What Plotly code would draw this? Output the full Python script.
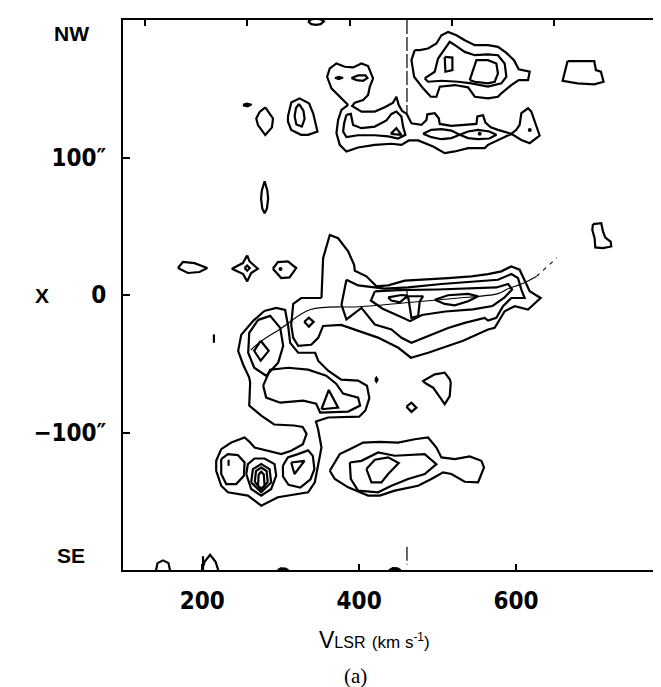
import plotly.graph_objects as go

# ---------------- axis / label data ----------------
x_range = [99, 795]           # V_LSR (km/s)
y_range = [-200, 200]         # X (arcsec)
x_tick_vals = [200, 400, 600]
x_tick_text = ["200", "400", "600"]
y_tick_vals = [100, 0, -100]
y_tick_text = ["100\u2033", "0", "\u2212100\u2033"]
top_tick_vals = [127, 257, 388, 518, 648, 778]
sys_velocity = 461            # vertical reference line (km/s)

# ---------------- contour data (V_LSR, X) ----------------
top_edge_blob = [(335,199),(339,197),(345,196.5),(351,197),(355,199),(351,200.5),(345,201),(339,200.5)]
nw_dash = [(252,138.5),(257,139.5),(263,138.5),(258,137),(253,137.5)]
nw_diamond = [(280.4,136.4),(290.2,128.4),(288.9,121.9),(280.4,116.3),(271,123.6),(268.9,128.4),(273.2,133.2)]
nw_oval_outer = [(309.3,130),(313.5,140),(324,143),(336,139.5),(341.4,132.2),(346.9,118.9),(335,116.5),(326,116.5),(313.5,120),(309.3,126)]
nw_oval_inner = [(323.3,139),(329,134),(330.5,128),(327,122.5),(320,124),(317.8,130),(319.5,136)]
thin_ellipse = [(279.5,82.7),(283,76),(284,70),(282.5,63),(279.5,59.4),(276.5,63),(275,70),(276,76)]

band_outer = [(386,138.2),(377.5,143),(364.7,150.3),(359.2,158.7),(362.6,164.8),(371.1,168.4),(381.7,166),
              (392.3,165.5),(403,168.4),(411.4,166.5),(417.8,157.5),(413.6,151.5),(411.4,145.4),(405.1,141.8),
              (394.5,139.9),(391.1,137.5),(403,133.4),(420,133.4),(432.7,136.5),(443.3,139.9),(447.5,144.2),
              (450.5,138.2),(454.8,133.9),(460.7,131.7),(466.7,124.9),(479.4,123.7),(485.8,127.3),(487,131.4),
              (496.4,132.2),(501.5,128.5),(502.8,124.4),(517.6,123),(534.6,123.5),(549.5,124.4),(550.7,129.8),
              (558,130.7),(561,125.4),(567.7,122),(577,120.1),(594,117.2),(606.8,112.8),(617.4,110.4),
              (630.1,116),(623.8,127.3),(619.5,133.4),(615.3,135.8),(606.8,132.2),(604.6,123.7),(600.4,120.1),
              (594,117.2),(577,112.8),(564.3,109.2),(560.1,106.8),(538.9,106.8),(521.9,104.4),(509.1,103.2),
              (494.3,108),(475.2,112.4),(463.3,112.4),(453.9,109.2),(441.2,110),(420,109.2),(398.7,107.3),
              (383.8,104.4),(375.3,109.2),(371.1,117.7),(373.2,127.3),(377.5,134.6),(386,138.2)]
band_inner_left = [(383.8,131),(389.4,131.7),(392.3,123.7),(403,121.3),(420,122.5),(434.8,126.9),(441.2,131.7),
                   (447.5,133.4),(453.9,129.8),(456,122.5),(459,116.5),(449.7,113.8),(437,115.3),(420,116.2),
                   (398.7,116.2),(383.8,114.8),(379.6,118.9),(380.9,124.9)]
band_triangle = [(440.3,117.2),(447.5,121.3),(453.9,116.5)]
head_dash = [(369,157.8),(374,158.8),(379.6,158),(374,156.8)]
head_lens = [(390.2,157.8),(398.7,159.7),(408,159.7),(410.6,157.8),(405.1,155.8),(396.6,156.3)]
band_lens1 = [(481.5,117.2),(492.1,120.1),(504.9,120.6),(517.6,119.6),(528.2,116.5),(517.6,114.1),(504.9,113.3),(492.1,114.8)]
band_lens2 = [(528.2,116.5),(538.9,118.9),(551.6,120.1),(566,118.9),(575,116.5),(566,113.8),(551.6,113.3),(538.9,114.1)]

ne_outer = [(470.9,178.1),(466.7,170.8),(470.1,158.7),(481.5,150.3),(491.3,144.2),(498.5,144.2),(502.8,151.5),
            (521.9,152.7),(538.9,151),(547.4,144.2),(564.3,143),(577,144.2),(581.3,146.7),(594,152.7),
            (603.4,156.3),(615.3,156.3),(617.4,162.4),(603.4,164.1),(597.4,170.8),(587.7,176.1),(577,180.5),
            (564.3,181.7),(547.4,181.7),(534.6,185.3),(524,188.9),(513.4,191.3),(504.9,188.9),(498.5,182.9),
            (487.9,179.3),(477.3,178.1)]
ne_mid = [(483.6,157.5),(496.4,162.4),(500.6,172),(509.1,179.3),(515.5,184.1),(524,181),(534.6,176.8),
          (547.4,174.4),(564.3,175),(577,174.4),(585.5,168.4),(587.7,158.7),(581.3,153.9),(564.3,151.5),
          (543.1,153.9),(526.1,155.1),(504.9,155.8),(487.9,155.1)]
ne_box = [(509.1,173.2),(518.9,172.7),(518.9,163.6),(510,162.4)]
ne_trap = [(541,156.3),(549.5,170.8),(564.3,170.8),(574.9,168.4),(577,161.1),(572.8,155.1),(564.3,153.9),(547.4,155.1)]
far_trap = [(665.7,170.1),(699.7,170.1),(701.8,163.6),(708.2,162.4),(711.6,155.1),(699.7,153.2),(678.5,153.9),(659.4,155.8)]

w_ellipse = [(169,19.6),(175.4,24),(190.2,23.2),(206.4,19.6),(196.6,16.7),(181.7,16)]
w_astroid = [(257.3,28.8),(260.3,24.4),(270.9,19.1),(262.4,16),(257.3,9.9),(252.2,15.2),(237.8,19.1),(251.8,23.2)]
w_astroid_core = [(254,19.6),(257.3,21.5),(260.6,19.6),(257.3,17.7)]
w_oval = [(290,19.1),(296.4,23.9),(309.2,24.4),(319.8,19.6),(311.3,12.8),(300.7,12.3)]
w_tick = [(214.9,-28.7),(214.9,-34.8)]
e_blob = [(698.1,51.5),(708.7,52.2),(710.8,46.2),(713.8,41.8),(720.6,38.9),(721.4,35.3),(710.8,34.1),(701,34.6),(700.2,41.3),(697.2,47.4)]
e_edge_blob = [(805,17),(795,22),(785.1,20.8),(779.6,16.7),(783,12.3),(795,11.1),(805,13)]

# central structure: tower + wedge + western bay
c_outer = [(352,-2.2),(354.1,26.8),(362.6,43.7),(373.2,41.3),(386,31.7),(393.6,22),(394.5,17.7),
           (409.3,13.6),(422.1,6.3),(437,7),(458.2,10.4),(483.6,11.1),(513.4,12.3),(543.1,13.5),(564.3,15.2),
           (581.3,17.2),(594,20.8),(604.6,18.4),(611,9.9),(617.4,2.7),(631.4,-2.2),(615.3,-10.6),(598.3,-8.2),
           (585.5,-11.8),(572.8,-23.9),(564.3,-25.1),(532.5,-33.3),(488,-42),(466,-45.6),(450,-38.4),
           (424,-31),(405,-27),(377.1,-21.7),(354.1,-22.5),(347.8,-31.2),(338.9,-36.2),(322.3,-37),
           (316,-31.2),(313.4,-21.7),(316,-6.5),(326.1,-2.2),(335,-2.2)]
c_bay_diamond = [(330,-19.5),(336,-16.5),(342,-19.5),(336,-23)]
c_mid = [(383.8,11.1),(398.7,7),(432.7,4.6),(462.4,5.6),(504.9,8),(547.4,9.9),(577,11.1),(594,15.2),(602.5,12.3),
         (606.8,3.9),(611,-2.2),(594,-2.2),(583.4,-8.2),(574.9,-16.6),(564.3,-18.6),(560,-16.6),(534.6,-20.3),
         (513.4,-24),(483.6,-31.1),(466.7,-34.8),(454,-31.1),(441.2,-25.1),(420,-21.5),(403,-9.4),(383.8,-17.8),
         (377.5,-7)]
c_third = [(420,2.6),(450,3.5),(500,4),(550,5),(575,5.5),(590,8),(595,4),(585,-2),(570,-8),(545,-10.5),
           (510,-12),(480,-14.5),(465,-19),(450,-15),(430,-10),(415,-4)]
c_wedge = [(437,-1.7),(454,0),(462,-0.4),(452,-5.3),(441,-4)]
c_u = [(462.4,-0.9),(481.5,-0.9),(477.3,-4.6),(475.2,-15.4),(466.7,-16.6),(464.5,-7)]
c_lens = [(496.4,-3.4),(513.4,-0.2),(538.9,0.8),(551.6,-0.9),(538.9,-4.6),(521.9,-7.5),(509.1,-6.5)]

# south-western complex joined to the lower-left clump
sw_outer = [(279,-11.6),(294.3,-9.4),(305.7,-10.9),(309.5,-22.5),(312.1,-34.8),(322.3,-42),(343.9,-42),
            (347.8,-47.8),(360.5,-55.1),(377.1,-61.6),(398.7,-62.3),(410,-66),(413,-75),(408,-84),(400,-88.5),
            (360.5,-89.1),(345,-92),(347.7,-97.6),(352,-110.9),(347.7,-124.2),(343.5,-136.3),(335,-143.5),
            (296.4,-147.1),(275.2,-153.2),(258.2,-145.9),(232.7,-143.5),(224.2,-138.7),(217.8,-127.8),
            (217.8,-120.6),(224.2,-112.1),(237,-107.3),(254,-103.6),(260.3,-106.8),(266.7,-110.9),(283.7,-113.3),
            (300.7,-115.7),(313.4,-113.3),(328.3,-108.5),(333,-101),(328,-96),(317.2,-94.9),(291.7,-94.2),
            (275.2,-87.7),(259.9,-80.4),(261.1,-63.8),(259.9,-60.1),(252.2,-50.7),(245.8,-40.6),(249.7,-29),
            (265,-18.8)]
sw_ring = [(271.3,-18.1),(286.6,-15.2),(299.4,-23.9),(303.2,-37),(296.8,-49.3),(281.5,-58.7),(266.2,-52.9),
           (258.6,-42),(259.9,-27.5)]
sw_core = [(274.5,-33.3),(284.7,-40.6),(274.5,-47.8),(266.2,-40.6)]
sw_inner = [(277.7,-65.9),(281.5,-74.6),(299.4,-78.3),(328.7,-76.8),(345.2,-79),(350.3,-85.5),(386,-84.8),
            (401.3,-80.4),(398.7,-74.6),(379.6,-71.7),(370.7,-64.5),(358,-58.7),(335,-54.3),(309.5,-52.9),
            (286.6,-54.3)]
sw_triangle = [(352,-83.1),(361.3,-69.1),(373.2,-81.9)]
s60_diamond = [(460.3,-81.2),(466.7,-78.3),(473,-81.9),(466.7,-85)]
s60_blob = [(483.6,-63.8),(494.3,-67.4),(504.9,-75.9),(509.1,-79.5),(515.5,-73.5),(516.8,-63.8),(515.5,-61.3),
            (509.1,-56.5),(496.4,-57.7),(481.5,-62.5)]
s60_ring = [(420.5,-61.6),(422,-60.2),(423.5,-61.6),(422,-63)]

bl_left = [(224.2,-119.3),(232.7,-115.7),(245.4,-116.4),(254,-121.8),(253.1,-131.4),(243.3,-137.5),(230.6,-137.5),(224.2,-130.2)]
bl_left_mark = [(233.6,-119.8),(233.6,-124.2)]
bl_nest1 = [(256.1,-130.2),(258.2,-123),(266.7,-118.9),(279.4,-118.9),(292.2,-123),(294.3,-131.4),(287.9,-141.1),(275.2,-145.9),(262.4,-141.1)]
bl_nest2 = [(262.4,-136.3),(264.6,-126.6),(275.2,-123),(285.8,-126.6),(287.9,-136.3),(275.2,-143.5)]
bl_nest3 = [(267,-136),(268.5,-128),(275.2,-125.5),(282,-128),(283.5,-136),(275.2,-141.5)]
bl_nest4 = [(271,-139),(272,-130.5),(275.2,-128.5),(278.5,-130.5),(279.5,-139),(275.2,-140.5)]
bl_right = [(302.8,-124.2),(309.1,-118.1),(321.9,-115.7),(335,-113),(341,-117),(343,-126.6),(338,-134),(325,-140),(310,-138),(303,-132)]
bl_triangle = [(313.4,-121.8),(330.4,-120.6),(317.6,-130.2)]

bm_outer = [(362.6,-127.8),(375.3,-115.7),(388.1,-112.1),(405.1,-107.3),(426.3,-106.8),(449.7,-107.3),(470.9,-104.9),
            (487.9,-103.6),(498.5,-110.9),(504.9,-118.1),(521.9,-119.3),(541,-117.4),(555.8,-120.6),(559.2,-125.4),
            (551.6,-136.3),(534.6,-135.8),(517.6,-130.2),(507,-129),(492.1,-133.8),(475.2,-138.7),(445.4,-142.3),
            (426.3,-145.9),(411.4,-145.9),(386,-139.9),(369,-133.8)]
bm_mid = [(388.1,-121.8),(403,-120.6),(424.2,-114.5),(445.4,-116.9),(483.6,-115.7),(498.5,-123),(483.6,-130.2),
          (462.4,-133.8),(441.2,-138.7),(424.2,-143.5),(398.7,-142.3),(389.4,-133.8)]
bm_inner = [(409.3,-126.6),(420,-119.8),(437,-118.1),(450.5,-122.2),(437,-130.2),(428.4,-136.3),(415.7,-136.3)]

edge_bump1 = [(140,-203),(143,-195),(150,-193),(157,-195),(160,-203)]
edge_bump2 = [(198,-203),(203,-194),(210,-189),(217,-194),(222,-203)]
edge_bump2_tick = [(201,-190),(201,-200)]
edge_mound1 = [(296,-200),(300,-198.5),(306,-198.8),(310,-200)]
edge_mound2 = [(438,-200),(443,-198.3),(449,-198.6),(453,-200)]

rotation_curve = [(262,-40),(275,-33.6),(300,-24.5),(338,-10.6),(400,-8.5),(456,-5.8),(520,-2.5),(577,1),(590,4.6),(607,8),(626,13.5)]
rotation_curve_ext = [(626,13.5),(640,20.5),(652,27)]

open_lines = [w_tick, bl_left_mark, edge_bump1, edge_bump2, edge_bump2_tick]
closed_lines = [top_edge_blob, nw_diamond, nw_oval_outer, nw_oval_inner, thin_ellipse, band_outer, band_inner_left,
                band_triangle, head_lens, band_lens1, band_lens2, ne_outer, ne_mid, ne_box, ne_trap, far_trap,
                w_ellipse, w_astroid, w_astroid_core, w_oval, e_blob, e_edge_blob, c_outer, c_bay_diamond, c_mid,
                c_third, c_wedge, c_u, c_lens, sw_outer, sw_ring, sw_core, sw_inner, sw_triangle, s60_diamond,
                s60_blob, s60_ring, bl_left, bl_nest1, bl_nest2, bl_nest3, bl_nest4, bl_right, bl_triangle,
                bm_outer, bm_mid, bm_inner]
filled_shapes = [nw_dash, head_dash, edge_mound1, edge_mound2]
dots = [(299.8,18.9),(553.7,117.2),(617.5,120.0)]

fig = go.Figure()
LW = 2.2

def xy(pts, close=False):
    v = [p[0] for p in pts]
    x = [p[1] for p in pts]
    if close:
        v.append(pts[0][0]); x.append(pts[0][1])
    return v, x

for pts in closed_lines:
    v, x = xy(pts, True)
    fig.add_trace(go.Scatter(x=v, y=x, mode="lines", line=dict(color="black", width=LW), hoverinfo="skip"))
for pts in open_lines:
    v, x = xy(pts)
    fig.add_trace(go.Scatter(x=v, y=x, mode="lines", line=dict(color="black", width=LW), hoverinfo="skip"))
for pts in filled_shapes:
    v, x = xy(pts, True)
    fig.add_trace(go.Scatter(x=v, y=x, mode="lines", fill="toself", fillcolor="black",
                             line=dict(color="black", width=1.5), hoverinfo="skip"))
fig.add_trace(go.Scatter(x=[d[0] for d in dots], y=[d[1] for d in dots], mode="markers",
                         marker=dict(color="black", size=4), hoverinfo="skip"))
v, x = xy(rotation_curve)
fig.add_trace(go.Scatter(x=v, y=x, mode="lines", line=dict(color="black", width=1.1, shape="spline"), hoverinfo="skip"))
v, x = xy(rotation_curve_ext)
fig.add_trace(go.Scatter(x=v, y=x, mode="lines", line=dict(color="black", width=1.1, dash="4px,5px"), hoverinfo="skip"))
fig.add_trace(go.Scatter(x=[sys_velocity, sys_velocity, None, sys_velocity, sys_velocity, None, sys_velocity, sys_velocity],
                         y=[200, 132, None, -183, -196, None, 4, -3],
                         mode="lines", line=dict(color="black", width=1.2, dash="14px,3px"), hoverinfo="skip"))
fig.add_trace(go.Scatter(x=[x_range[0]], y=[0], xaxis="x2", mode="markers", marker=dict(opacity=0), hoverinfo="skip"))

tick_font = dict(family="Liberation Sans Narrow, Arial Narrow, DejaVu Sans Condensed, sans-serif", size=24,
                 color="black", weight="bold")
fig.update_layout(
    width=661, height=687,
    margin=dict(l=115, r=0, t=12, b=125),
    paper_bgcolor="white", plot_bgcolor="white",
    showlegend=False,
    xaxis=dict(range=x_range, showgrid=False, zeroline=False, showline=True, linecolor="black", linewidth=2,
               mirror=True, ticks="inside", ticklen=6, tickwidth=1.5, tickcolor="black",
               tickvals=x_tick_vals, ticktext=x_tick_text, tickfont=tick_font, ticklabelstandoff=8),
    xaxis2=dict(range=x_range, overlaying="x", side="top", showgrid=False, zeroline=False, showline=False,
                ticks="inside", ticklen=6, tickwidth=1.5, tickcolor="black", tickvals=top_tick_vals,
                showticklabels=False),
    yaxis=dict(range=y_range, showgrid=False, zeroline=False, showline=True, linecolor="black", linewidth=2,
               ticks="inside", ticklen=7, tickwidth=1.5, tickcolor="black",
               tickvals=y_tick_vals, ticktext=y_tick_text, tickfont=tick_font, ticklabelstandoff=10),
)
lab_font = dict(family="Liberation Sans, Arial, sans-serif", size=21, color="black", weight="bold")
fig.add_annotation(text="NW", xref="paper", yref="paper", x=-0.095, y=0.976, showarrow=False,
                   font=lab_font, xanchor="center", yanchor="middle")
fig.add_annotation(text="SE", xref="paper", yref="paper", x=-0.095, y=0.026, showarrow=False,
                   font=lab_font, xanchor="center", yanchor="middle")
fig.add_annotation(text="X", xref="paper", yref="paper", x=-0.148, y=0.5, showarrow=False,
                   font=lab_font, xanchor="center", yanchor="middle")
fig.add_annotation(text="V<span style='font-size:16px'>LSR</span> <span style='font-size:17px'>(km s<sup>-1</sup>)</span>",
                   xref="x", yref="paper", x=420, y=0, yshift=-70, showarrow=False,
                   font=dict(family="Liberation Sans, Arial, sans-serif", size=23, color="black"),
                   xanchor="center", yanchor="middle")
fig.add_annotation(text="(a)", xref="x", yref="paper", x=395, y=0, yshift=-106, showarrow=False,
                   font=dict(family="Liberation Serif, Times New Roman, serif", size=21, color="black"),
                   xanchor="center", yanchor="middle")

fig.write_html("out.html")
